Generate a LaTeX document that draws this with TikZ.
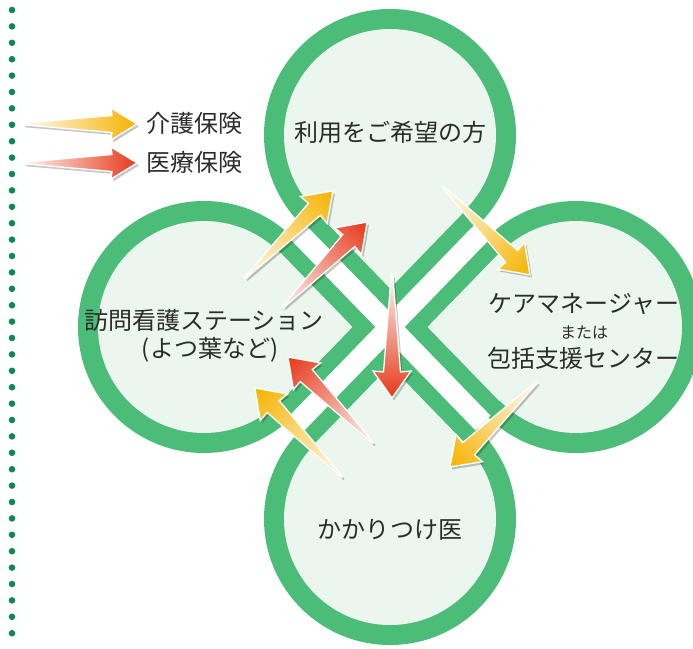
\documentclass[tikz,border=0pt]{standalone}
\usepackage{fontspec}
\setmainfont{Noto Sans CJK JP}
\usetikzlibrary{calc}
\definecolor{ringgreen}{HTML}{4BBD78}
\definecolor{palegreen}{HTML}{EBF6EF}
\definecolor{dotgreen}{HTML}{0E8A4E}
\definecolor{arrorange}{HTML}{F5B300}
\definecolor{arrred}{HTML}{E6391A}
\definecolor{txtgray}{HTML}{2B2B2B}
% #1 tail x, #2 tail y, #3 angle, #4 length, #5 head half width, #6 head length, #7 shaft half width, #8 colour
\newcommand{\grarrow}[8]{%
 \begin{scope}[overlay, transform canvas={shift={(#1+2,#2+2.5)},rotate=#3}]
  \fill[black,opacity=0.22] (0,0.8) -- ({#4-#6+1},#7) -- ({#4-#6},#5) -- (#4,0) -- ({#4-#6},-#5) -- ({#4-#6+1},-#7) -- (0,-0.8) -- cycle;
 \end{scope}
 \begin{scope}[overlay, transform canvas={shift={(#1,#2)},rotate=#3}]
  \shade[left color=#8!5!white, middle color=#8!75!white, right color=#8, draw=white, line width=1.3pt, line join=miter]
   (0,0.8) -- ({#4-#6+1},#7) -- ({#4-#6},#5) -- (#4,0) -- ({#4-#6},-#5) -- ({#4-#6+1},-#7) -- (0,-0.8) -- cycle;
 \end{scope}}
\begin{document}
\begin{tikzpicture}[x=1pt,y=-1pt,
  lbl/.style={text=txtgray, font=\fontsize{24}{28}\selectfont, inner sep=0pt},
  smalllbl/.style={text=txtgray, font=\fontsize{16}{18}\selectfont, inner sep=0pt}]
\useasboundingbox (0,0) rectangle (693,648);
% dotted line
\foreach \k in {0,...,38} \fill[dotgreen] (12,{10+16.4*\k}) circle (3.3);
% clover: green rings and bands
\fill[ringgreen] (390,135) circle (126) (204,327) circle (126) (576,327) circle (126) (390,519) circle (126);
\draw[ringgreen, line width=54pt] (297,231) -- (483,423);
\draw[ringgreen, line width=54pt] (483,231) -- (297,423);
% pale interiors
\fill[palegreen] (390,135) circle (106) (204,327) circle (106) (576,327) circle (106) (390,519) circle (106);
\fill[palegreen] (390,288.2) -- (313.4,209.2) -- (390,135) -- (466.6,209.2) -- cycle;
\fill[palegreen] (390,365.8) -- (313.4,444.8) -- (390,519) -- (466.6,444.8) -- cycle;
\fill[palegreen] (352.4,327) -- (280.6,252.8) -- (204,327) -- (280.6,401.2) -- cycle;
\fill[palegreen] (427.6,327) -- (499.4,252.8) -- (576,327) -- (499.4,401.2) -- cycle;
% white channels
\draw[white, line width=21pt] (297,231) -- (483,423);
\draw[white, line width=21pt] (483,231) -- (297,423);
% labels
\node[lbl] (user) at (390,132) {利用をご希望の方};
\node[lbl] (nurse1) at (204,320) {訪問看護ステーション};
\node[lbl] (nurse2) at (210,350) {(よつ葉など)};
\node[lbl] (care1) at (584,304) {ケアマネージャー};
\node[smalllbl] (care2) at (584,333) {または};
\node[lbl] (care3) at (583,358) {包括支援センター};
\node[lbl] (doctor) at (390,530) {かかりつけ医};
\node[lbl] (leg1) at (194,123) {介護保険};
\node[lbl] (leg2) at (194,162) {医療保険};
% arrows
\grarrow{245}{278}{44.7}{123.7}{19}{27}{8.5}{arrorange}
\grarrow{283}{307}{45.3}{119.5}{19}{27}{8.5}{arrred}
\grarrow{443}{187}{-45.3}{123.7}{19}{27}{8.5}{arrorange}
\grarrow{537}{382}{224.3}{121.6}{19}{27}{8.5}{arrorange}
\grarrow{392}{275}{-90}{123}{19}{27}{8.5}{arrred}
\grarrow{373}{443}{134.7}{120.9}{19}{27}{8.5}{arrred}
\grarrow{342}{477}{134.35}{124.5}{19}{27}{8.5}{arrorange}
\grarrow{23}{124}{0}{114}{16}{26}{8.5}{arrorange}
\grarrow{24}{163}{0}{113}{16}{26}{8.5}{arrred}
\end{tikzpicture}
\end{document}
